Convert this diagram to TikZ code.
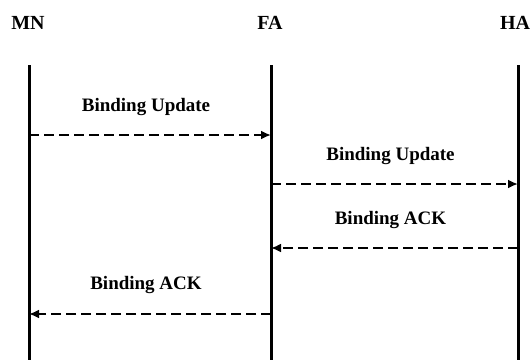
\documentclass[tikz,border=0pt]{standalone}
\usepackage{fontspec}
\setmainfont{Liberation Serif}
\usetikzlibrary{arrows.meta, positioning}

\tikzset{
  actor/.style={font=\fontsize{20}{22}\selectfont\bfseries, inner sep=0pt, anchor=base},
  lifeline/.style={line width=3pt},
  msg/.style={line width=2.8pt, dash pattern=on 10pt off 5pt, -{Latex[length=10pt,width=9pt]}},
  msglabel/.style={font=\fontsize{19}{21}\selectfont\bfseries, inner sep=0pt, xshift=-4pt}
}

\begin{document}
\begin{tikzpicture}[x=1pt, y=-1pt]
	\useasboundingbox (0,0) rectangle (532,360);
	
	% 参与者名称
	\node (mn) [actor] at (28,29) {MN};
	\node (fa) [actor] at (270,29) {FA};
	\node (ha) [actor] at (515,29) {HA};
	
	% 生命线
	\foreach \name/\x in {mn/29, fa/271, ha/518} {
		\coordinate (\name-top) at (\x,65);
		\coordinate (\name-bot) at (\x,360);
		\draw[lifeline] (\name-top) -- (\name-bot);
	}
	
	% 消息端点
	\coordinate (mn1) at (29,135);  \coordinate (fa1) at (271,135);
	\coordinate (fa2) at (271,184); \coordinate (ha2) at (518,184);
	\coordinate (ha3) at (518,248); \coordinate (fa3) at (271,248);
	\coordinate (fa4) at (271,314); \coordinate (mn4) at (29,314);
	
	% 消息
	\draw[msg] (mn1) -- (fa1) node[msglabel, midway, above=18pt] {Binding Update};
	\draw[msg] (fa2) -- (ha2) node[msglabel, midway, above=18pt] {Binding Update};
	\draw[msg] (ha3) -- (fa3) node[msglabel, midway, above=18pt] {Binding ACK};
	\draw[msg] (fa4) -- (mn4) node[msglabel, midway, above=19pt] {Binding ACK};
\end{tikzpicture}
\end{document}
